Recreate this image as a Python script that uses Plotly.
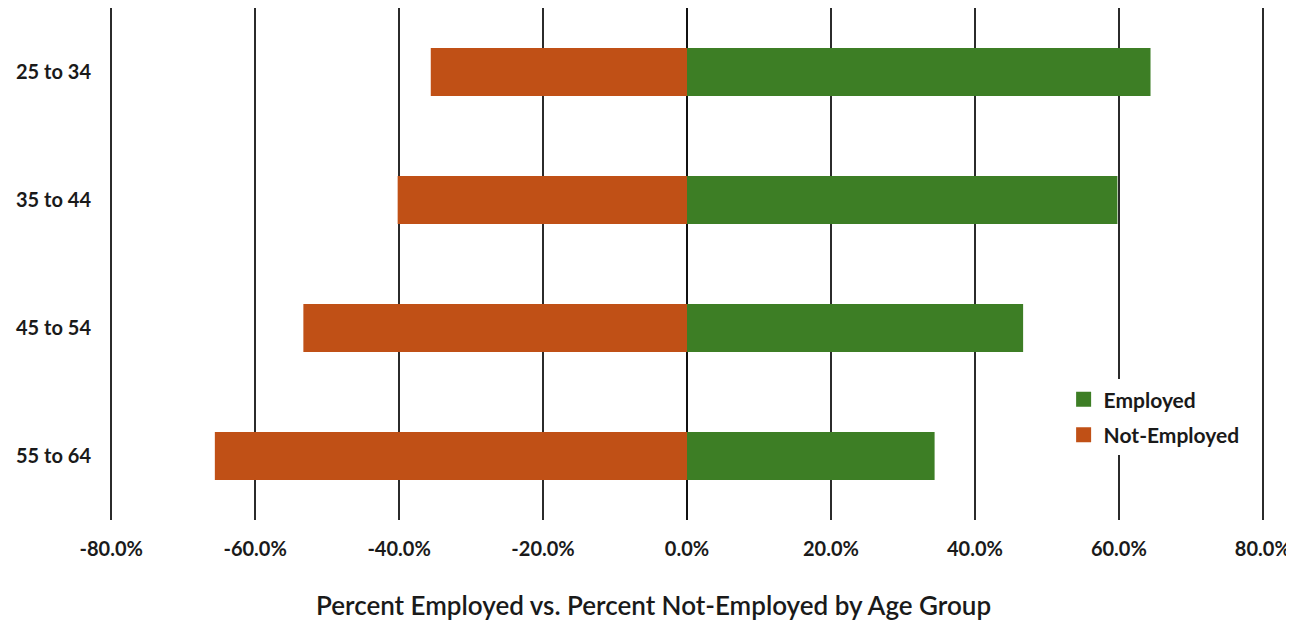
import plotly.graph_objects as go

age_groups = ["25 to 34", "35 to 44", "45 to 54", "55 to 64"]
employed_pct = [64.4, 59.8, 46.7, 34.4]
not_employed_pct = [35.6, 40.2, 53.3, 65.6]
tick_values = [-80, -60, -40, -20, 0, 20, 40, 60, 80]
tick_labels = ["-80.0%", "-60.0%", "-40.0%", "-20.0%", "0.0%", "20.0%", "40.0%", "60.0%", "80.0%"]
x_title = "Percent Employed vs. Percent Not-Employed by Age Group"

GREEN = "#3d7e25"
ORANGE = "#c05016"
FONT = "Lato"
TXT = "#1a1a1a"

fig = go.Figure()
fig.add_trace(go.Bar(
    y=age_groups, x=employed_pct, orientation="h",
    name="Employed", marker=dict(color=GREEN, line=dict(width=0)),
    width=0.375, showlegend=False,
))
fig.add_trace(go.Bar(
    y=age_groups, x=[-v for v in not_employed_pct], orientation="h",
    name="Not-Employed", marker=dict(color=ORANGE, line=dict(width=0)),
    width=0.375, showlegend=False,
))
# legend entries with larger square swatches
for nm, col, grp in [("Employed", GREEN, "a"), ("Not-Employed", ORANGE, "b")]:
    fig.add_trace(go.Scatter(
        x=[None], y=[None], mode="markers", name=nm, legendgroup=grp,
        marker=dict(symbol="square", size=15, color=col), showlegend=True,
    ))

fig.update_layout(
    width=1294, height=620,
    margin=dict(l=96, r=32, t=0, b=108),
    paper_bgcolor="white", plot_bgcolor="white",
    barmode="relative",
    font=dict(family=FONT, color=TXT),
    legend=dict(
        x=0.823, y=0.275, xanchor="left", yanchor="top",
        bgcolor="white", font=dict(size=21, family=FONT, color=TXT, weight="bold"),
        traceorder="grouped", tracegroupgap=5,
    ),
    xaxis=dict(
        range=[-81, 81], tickvals=tick_values, ticktext=tick_labels,
        showgrid=True, gridcolor="#2b2b2b", gridwidth=1.5,
        zeroline=True, zerolinecolor="#111111", zerolinewidth=1.5,
        showline=False, ticks="",
        tickfont=dict(size=20, family=FONT, color=TXT, weight="bold"),
        ticklabelstandoff=15,
    ),
    yaxis=dict(
        categoryorder="array", categoryarray=age_groups,
        autorange=False, range=[3.5, -0.5],
        showgrid=False, zeroline=False, showline=False, ticks="",
        tickfont=dict(size=20, family=FONT, color=TXT, weight="bold"),
        ticklabelstandoff=12,
    ),
    annotations=[dict(
        text=x_title, xref="paper", yref="paper", x=0.4715, y=-0.166,
        xanchor="center", yanchor="middle", showarrow=False,
        font=dict(size=26, family=FONT, color=TXT, weight=600),
    )],
)

fig.write_html("out.html")
